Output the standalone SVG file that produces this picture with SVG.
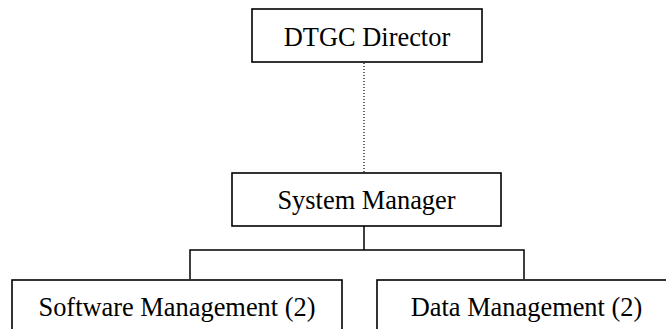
<svg xmlns="http://www.w3.org/2000/svg" width="666" height="329" viewBox="0 0 666 329">
  <style>
    .box { fill: #ffffff; stroke: #000000; stroke-width: 1.6; }
    .label { font-family: "Liberation Serif", "Times New Roman", serif; font-size: 26.4px; fill: #000000; text-anchor: middle; }
    .link { fill: none; stroke: #000000; stroke-width: 1.5; }
    .dotted { fill: none; stroke: #000000; stroke-width: 1.2; stroke-dasharray: 1 2; }
  </style>
  <rect width="666" height="329" fill="#ffffff"/>

  <!-- connectors -->
  <g id="connectors">
    <line class="dotted" x1="364" y1="63" x2="364" y2="173"/>
    <line class="link" x1="364" y1="226" x2="364" y2="250"/>
    <polyline class="link" points="190,279 190,250 524,250 524,279"/>
  </g>

  <g id="node-director">
    <rect class="box" x="252" y="9" width="230" height="53"/>
    <text class="label" x="367" y="46">DTGC Director</text>
  </g>

  <g id="node-system-manager">
    <rect class="box" x="232" y="173" width="269" height="53"/>
    <text class="label" x="366.5" y="209">System Manager</text>
  </g>

  <g id="node-software-management">
    <rect class="box" x="12" y="280" width="330" height="70"/>
    <text class="label" x="177" y="316">Software Management (2)</text>
  </g>

  <g id="node-data-management">
    <rect class="box" x="377" y="280" width="299" height="70"/>
    <text class="label" x="526.5" y="316">Data Management (2)</text>
  </g>
</svg>
